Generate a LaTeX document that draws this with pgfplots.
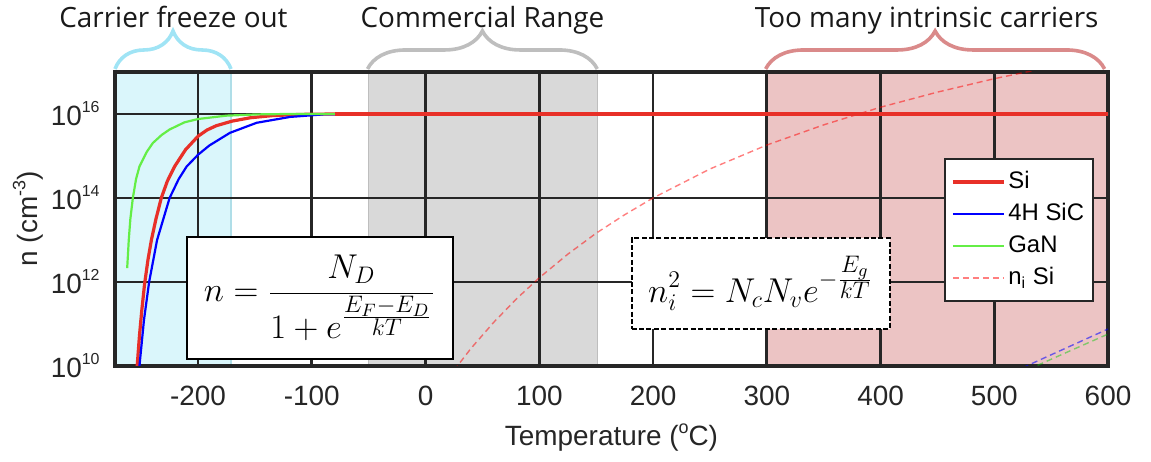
\documentclass[border=0pt]{standalone}
\usepackage[no-math]{fontspec}
\setmainfont{Liberation Sans}
\newfontfamily\titlefont{Open Sans}
\usepackage{pgfplots}
\pgfplotsset{compat=1.18}
\usetikzlibrary{decorations.pathreplacing}
\definecolor{gridc}{RGB}{38,38,38}
\definecolor{cyanfill}{RGB}{218,246,251}
\definecolor{cyanedge}{RGB}{175,222,232}
\definecolor{cyanbrace}{RGB}{160,228,245}
\definecolor{grayfill}{RGB}{217,217,217}
\definecolor{grayedge}{RGB}{190,190,190}
\definecolor{graybrace}{RGB}{190,190,190}
\definecolor{redfill}{RGB}{236,196,196}
\definecolor{redbrace}{RGB}{218,138,138}
\definecolor{sired}{RGB}{232,48,40}
\definecolor{sicblue}{RGB}{0,0,255}
\definecolor{gangreen}{RGB}{100,238,70}
\newcommand\tenexp[1]{10\raisebox{6.5bp}{\fontsize{8}{8}\selectfont #1}}
\begin{document}
\begin{tikzpicture}
\begin{axis}[
  at={(57.5bp,48bp)}, anchor=south west,
  scale only axis, width=496.5bp, height=147bp,
  set layers, clip mode=individual,
  xmin=-273, xmax=600, ymin=1e10, ymax=1e17, ymode=log,
  xtick={-200,-100,0,100,200,300,400,500,600},
  xticklabels={-200,-100,0,100,200,300,400,500,600},
  ytick={1e10,1e12,1e14,1e16},
  yticklabels={\tenexp{10},\tenexp{12},\tenexp{14},\tenexp{16}},
  grid=major, major grid style={line width=1.4bp, color=gridc},
  axis line style={line width=1.6bp, color=gridc},
  major tick length=0pt,
  ticklabel style={font=\fontsize{14}{14}\selectfont, text=gridc},
  xticklabel style={anchor=center, yshift=-15bp},
  yticklabel style={anchor=east, inner sep=0pt, xshift=-7.5bp},
  xlabel={Temperature (\raisebox{6bp}{\fontsize{9}{9}\selectfont o}C)},
  ylabel={n (cm\raisebox{6bp}{\fontsize{9}{9}\selectfont -3})},
  every axis x label/.style={at={(axis description cs:0.5,-0.245)}, anchor=center, font=\fontsize{14}{14}\selectfont, text=gridc},
  every axis y label/.style={at={(axis description cs:-0.0876,0.5)}, rotate=90, anchor=center, font=\fontsize{14}{14}\selectfont, text=gridc},
  legend style={at={(0.986,0.7075)}, anchor=north east, font=\fontsize{12}{12}\selectfont,
    draw=gridc, line width=1bp, fill=white, inner xsep=3bp, inner ysep=3.5bp, row sep=0pt,
    nodes={inner xsep=1.5bp, inner ysep=1.5bp, text height=10bp, text depth=3bp}},
  legend cell align=left,
  legend image code/.code={\draw[#1] (0bp,0bp) -- (25.5bp,0bp);},
]
% shaded regions
\addplot[on layer=axis background, fill=cyanfill, draw=cyanedge, line width=0.6bp, forget plot]
  coordinates {(-273,1e10) (-171,1e10) (-171,1e17) (-273,1e17) (-273,1e10)};
\addplot[on layer=axis background, fill=grayfill, draw=grayedge, line width=0.6bp, forget plot]
  coordinates {(-50,1e10) (151,1e10) (151,1e17) (-50,1e17) (-50,1e10)};
\addplot[on layer=axis background, fill=redfill, draw=none, forget plot]
  coordinates {(300,1e10) (600,1e10) (600,1e17) (300,1e17) (300,1e10)};
% Si
\addplot[color=sired, line width=1.6bp] coordinates {
 (-254.5,5e9) (-253.5,1e10) (-251.5,5.25e10) (-249.5,2.04e11) (-247,8.91e11) (-244,3.39e12)
 (-241,1e13) (-237,3.16e13) (-232.3,1e14) (-227,2.51e14) (-220.6,5.62e14) (-211,1.41e15)
 (-200,2.95e15) (-192,4.17e15) (-184,5.25e15) (-170,6.76e15) (-154,8.13e15) (-135,9.12e15)
 (-110,9.77e15) (-80,1e16) (600,1e16)};
\addlegendentry{Si}
% 4H SiC
\addplot[color=sicblue, line width=1.1bp] coordinates {
 (-252.2,6.3e9) (-251.5,1e10) (-247.5,1.26e11) (-243,1e12) (-236,1e13) (-225,1e14)
 (-217,2.82e14) (-210,5.62e14) (-200,1.07e15) (-190,1.78e15) (-172,3.55e15) (-148.5,6.17e15)
 (-119,8.51e15) (-90,9.77e15) (-60,1e16) (600,1e16)};
\addlegendentry{4H SiC}
% GaN
\addplot[color=gangreen, line width=1.1bp] coordinates {
 (-262.3,2.14e12) (-261.5,5.01e12) (-260.9,1e13) (-259.5,3.16e13) (-257.3,1e14) (-254.5,2.82e14)
 (-251.5,5.62e14) (-245,1.26e15) (-239.7,2.04e15) (-232,3.16e15) (-225,4.27e15) (-212,6.31e15)
 (-200,7.59e15) (-175,9.12e15) (-148,9.77e15) (-120,1e16) (600,1e16)};
\addlegendentry{GaN}
% ni Si
\addplot[color=red, draw opacity=0.5, line width=0.7bp, dash pattern=on 3bp off 2bp] coordinates {
 (20,5.01e9) (28,1e10) (40,2.63e10) (60,1.10e11) (80,3.98e11) (100,1.26e12) (125,4.57e12)
 (150,1.45e13) (175,3.98e13) (200,1e14) (250,4.90e14) (300,1.82e15) (350,5.50e15)
 (400,1.45e16) (450,3.31e16) (500,6.92e16) (550,1.32e17)};
\addlegendentry{n\textsubscript{i} Si}
% ni 4H SiC and GaN
\addplot[color=blue, draw opacity=0.55, line width=0.7bp, dash pattern=on 3bp off 2bp, forget plot] coordinates {
 (525,9.1e9) (560,2.45e10) (600,7.59e10)};
\addplot[color=green!80!black, draw opacity=0.45, line width=0.7bp, dash pattern=on 3bp off 2bp, forget plot] coordinates {
 (530,8.3e9) (565,2.19e10) (600,5.75e10)};
% Si on top
\addplot[color=sired, line width=1.6bp, forget plot] coordinates {(-80,1e16) (600,1e16)};
% equation boxes
\node[draw=black, line width=1bp, fill=white, minimum width=133bp, minimum height=61bp, inner sep=0pt,
  font=\fontsize{18.5}{18.5}\selectfont] at (axis cs:-93.2,4.15e11)
  {$\displaystyle n=\frac{N_D}{1+e^{\frac{\scriptstyle E_F-E_D}{\scriptstyle kT}}}$};
\node[draw=black, line width=1bp, dash pattern=on 2.5bp off 1.2bp, fill=white, minimum width=129bp, minimum height=45.5bp, inner sep=0pt,
  font=\fontsize{17.7}{17.7}\selectfont] at (axis cs:294.6,9.25e11)
  {$\displaystyle n_i^2=N_cN_v e^{-\frac{\scriptstyle E_g}{\scriptstyle kT}}$};
% braces and titles
\draw[decorate, decoration={brace, amplitude=19bp}, line width=1.8bp, color=cyanbrace, yshift=1.5bp]
  (axis cs:-273,1e17) -- (axis cs:-171,1e17);
\draw[decorate, decoration={brace, amplitude=19bp}, line width=1.8bp, color=graybrace, yshift=1.5bp]
  (axis cs:-51,1e17) -- (axis cs:151,1e17);
\draw[decorate, decoration={brace, amplitude=19bp}, line width=1.8bp, color=redbrace, yshift=1.5bp]
  (axis cs:299,1e17) -- (axis cs:597,1e17);
\node[font=\titlefont\fontsize{14}{14}\selectfont, text=black!90, anchor=base, yshift=22bp] at (axis cs:-221.6,1e17) {Carrier freeze out};
\node[font=\titlefont\fontsize{14}{14}\selectfont, text=black!90, anchor=base, yshift=22bp] at (axis cs:50.1,1e17) {Commercial Range};
\node[font=\titlefont\fontsize{14}{14}\selectfont, text=black!90, anchor=base, yshift=22bp] at (axis cs:440.6,1e17) {Too many intrinsic carriers};
\end{axis}
\path (0,0) rectangle (575.5bp,230.5bp);
\end{tikzpicture}
\end{document}
